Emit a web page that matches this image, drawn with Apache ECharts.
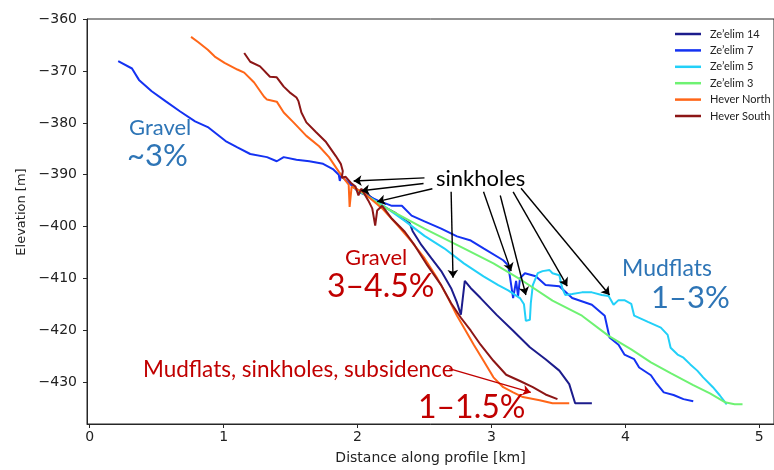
<!DOCTYPE html>
<html>
<head>
<meta charset="utf-8">
<script src="https://cdn.jsdelivr.net/npm/echarts@6/dist/echarts.min.js"></script>
<style>html,body{margin:0;padding:0;background:#fff}#main{width:774px;height:470px}</style>
</head>
<body>
<div id="main"></div>
<script>
const seriesNames = ['Ze\u2019elim 14','Ze\u2019elim 7','Ze\u2019elim 5','Ze\u2019elim 3','Hever North','Hever South'];
const xTicks = [0,1,2,3,4,5];
const yTicks = [-430,-420,-410,-400,-390,-380,-370,-360];

const zeelim14 = [[1.985,-392.7],[2.096,-394.2],[2.184,-396.0],[2.279,-397.3],[2.331,-398.4],[2.390,-399.4],[2.412,-400.9],[2.478,-403.6],[2.551,-406.1],[2.625,-408.6],[2.699,-411.9],[2.743,-414.7],[2.772,-417.0],[2.801,-410.5],[2.846,-411.9],[2.919,-413.8],[3.037,-417.0],[3.162,-420.1],[3.287,-423.3],[3.404,-425.6],[3.507,-427.8],[3.581,-430.4],[3.625,-434.1],[3.750,-434.1]];

const zeelim7 = [[0.213,-368.1],[0.316,-369.5],[0.368,-371.7],[0.463,-373.9],[0.566,-375.8],[0.676,-377.8],[0.787,-379.7],[0.882,-380.8],[1.015,-383.5],[1.103,-384.7],[1.199,-386.0],[1.324,-386.6],[1.397,-387.4],[1.449,-386.6],[1.544,-387.1],[1.640,-387.4],[1.743,-387.9],[1.816,-388.9],[1.860,-390.0],[1.868,-391.2],[1.875,-390.2],[1.949,-391.9],[2.007,-393.3],[2.154,-395.0],[2.257,-396.0],[2.331,-396.0],[2.404,-397.9],[2.500,-399.0],[2.625,-400.4],[2.743,-401.9],[2.846,-402.7],[2.941,-404.2],[3.088,-406.5],[3.125,-407.5],[3.140,-410.0],[3.162,-413.8],[3.184,-410.5],[3.199,-413.4],[3.213,-410.0],[3.250,-409.0],[3.331,-409.6],[3.404,-411.3],[3.507,-411.5],[3.603,-413.8],[3.750,-415.1],[3.846,-417.2],[3.882,-421.4],[3.949,-422.8],[3.993,-424.7],[4.066,-425.6],[4.103,-427.2],[4.191,-428.7],[4.228,-430.1],[4.287,-432.0],[4.360,-432.5],[4.434,-433.3],[4.507,-433.7]];

const zeelim5 = [[2.000,-392.9],[2.206,-396.2],[2.353,-398.9],[2.500,-401.8],[2.647,-404.2],[2.794,-407.1],[2.941,-409.6],[3.051,-411.3],[3.125,-412.3],[3.213,-413.8],[3.243,-415.0],[3.257,-418.2],[3.287,-418.0],[3.294,-414.8],[3.309,-411.3],[3.346,-409.0],[3.382,-408.6],[3.434,-408.4],[3.456,-409.0],[3.507,-409.4],[3.529,-411.9],[3.551,-413.2],[3.603,-413.0],[3.676,-412.7],[3.750,-412.7],[3.824,-413.2],[3.875,-413.4],[3.912,-415.1],[3.949,-414.2],[3.993,-414.2],[4.044,-414.9],[4.066,-417.2],[4.169,-418.4],[4.265,-419.5],[4.316,-420.9],[4.338,-423.4],[4.390,-424.7],[4.434,-425.3],[4.485,-426.6],[4.537,-427.8],[4.581,-429.1],[4.654,-431.0],[4.706,-432.6],[4.757,-434.3]];

const zeelim3 = [[1.963,-392.3],[2.184,-396.0],[2.500,-400.4],[2.794,-404.2],[3.015,-407.1],[3.235,-410.5],[3.456,-414.3],[3.676,-417.2],[3.875,-421.1],[4.044,-423.7],[4.191,-426.2],[4.338,-428.3],[4.507,-430.6],[4.632,-432.2],[4.743,-433.9],[4.816,-434.3],[4.875,-434.3]];

const heverNorth = [[0.757,-363.4],[0.809,-364.4],[0.882,-365.9],[0.934,-367.2],[1.007,-368.4],[1.103,-369.7],[1.154,-370.3],[1.228,-372.2],[1.301,-374.9],[1.324,-375.5],[1.397,-375.9],[1.449,-378.0],[1.522,-379.9],[1.618,-382.5],[1.713,-384.5],[1.787,-386.6],[1.860,-389.4],[1.912,-391.2],[1.934,-391.9],[1.941,-396.2],[1.956,-392.3],[2.037,-393.3],[2.184,-396.5],[2.301,-399.8],[2.404,-402.9],[2.500,-406.1],[2.596,-410.0],[2.684,-414.2],[2.743,-417.2],[2.794,-419.5],[2.868,-422.8],[2.941,-425.9],[3.015,-429.1],[3.088,-431.0],[3.162,-432.0],[3.235,-432.9],[3.360,-433.5],[3.456,-434.1],[3.581,-434.1]];

const heverSouth = [[1.154,-366.5],[1.199,-368.2],[1.272,-369.1],[1.346,-371.1],[1.397,-371.2],[1.449,-373.0],[1.493,-374.1],[1.544,-375.1],[1.559,-375.8],[1.581,-378.0],[1.618,-379.9],[1.691,-381.8],[1.765,-383.7],[1.838,-386.4],[1.875,-387.9],[1.890,-389.3],[1.882,-390.6],[1.912,-390.4],[1.956,-391.7],[1.985,-392.3],[2.007,-394.0],[2.029,-392.7],[2.081,-395.0],[2.110,-396.5],[2.132,-399.8],[2.147,-396.9],[2.184,-396.0],[2.257,-398.5],[2.353,-401.0],[2.426,-403.6],[2.522,-407.5],[2.625,-411.3],[2.699,-414.8],[2.772,-417.6],[2.846,-420.1],[2.919,-422.8],[3.015,-425.9],[3.110,-428.6],[3.213,-429.8],[3.309,-431.0],[3.404,-432.4],[3.493,-433.3]];

const seriesData = [zeelim14, zeelim7, zeelim5, zeelim3, heverNorth, heverSouth];
const seriesColors = ['#1c1c8c','#1432f2','#22d0f8','#6ef272','#ff6618','#8c1616'];

// annotation arrows (tail -> head, data units)
const sinkholeArrows = [
  [[2.500,-390.6],[1.971,-391.2]],
  [[2.493,-391.7],[2.029,-393.1]],
  [[2.559,-392.7],[2.147,-395.2]],
  [[2.699,-393.3],[2.713,-409.9]],
  [[2.941,-393.3],[3.147,-408.6]],
  [[3.066,-394.0],[3.257,-413.2]],
  [[3.162,-393.3],[3.566,-411.5]],
  [[3.221,-392.6],[3.882,-413.2]]
];
const mudflatArrow = [[2.684,-427.4],[3.294,-432.0]];

const chart = echarts.init(document.getElementById('main'), null, {renderer:'canvas'});

const tickColor = '#262626';
const series = seriesNames.map((n,i)=>({
  name:n, type:'line', data:seriesData[i], showSymbol:false, symbol:'none',
  lineStyle:{width:2, color:seriesColors[i]}, itemStyle:{color:seriesColors[i]},
  animation:false, z:2
}));
const arrowData = sinkholeArrows.map(a=>[{coord:a[0]},{coord:a[1]}]);
arrowData.push([{coord:mudflatArrow[0], lineStyle:{color:'#c00000'}},{coord:mudflatArrow[1]}]);
series.push({
  name:'annotations', type:'line', data:[], z:5, silent:true,
  markLine:{silent:true, animation:false, symbol:['none','arrow'], symbolSize:8, precision:4,
    label:{show:false}, lineStyle:{color:'#000', width:1.4, type:'solid'}, emphasis:{disabled:true},
    data:arrowData}
});

const annoFont = 'Lato';
function txt(t,x,y,size,color){
  return {type:'text', x:x, y:y, z:10, style:{text:t, x:0, y:0, fill:color, fontSize:size, fontFamily:annoFont, textAlign:'left', textVerticalAlign:'middle'}};
}

chart.setOption({
  animation:false,
  backgroundColor:'#ffffff',
  grid:{left:87, top:19, width:698, height:408, show:true, borderColor:tickColor, borderWidth:1, containLabel:false},
  legend:{
    data:seriesNames, orient:'vertical', left:675, top:27, padding:0, icon:'rect', itemWidth:26, itemHeight:2.5, itemGap:2.4,
    textStyle:{fontFamily:'Lato', fontSize:11, color:'#222', lineHeight:14, padding:[0,0,0,4]}
  },
  xAxis:{
    type:'value', min:-0.02, max:5.11,
    splitLine:{show:false},
    axisLine:{onZero:false, lineStyle:{color:tickColor, width:1}},
    axisTick:{show:true, customValues:xTicks, length:4, lineStyle:{color:tickColor}},
    axisLabel:{customValues:xTicks, margin:6, color:'#222', fontFamily:'DejaVu Sans', fontSize:14},
    name:'Distance along profile [km]', nameLocation:'middle', nameGap:27,
    nameTextStyle:{fontFamily:'DejaVu Sans', fontSize:14, color:'#222'}
  },
  yAxis:{
    type:'value', min:-438.1, max:-359.95,
    splitLine:{show:false},
    axisLine:{onZero:false, lineStyle:{color:tickColor, width:1}},
    axisTick:{show:true, customValues:yTicks, length:4, lineStyle:{color:tickColor}},
    axisLabel:{customValues:yTicks, margin:10, color:'#222', fontFamily:'DejaVu Sans', fontSize:14,
      formatter:v=>String(v).replace('-','\u2212')}
  },
  graphic:[
    {type:'text', x:22, y:212, rotation:Math.PI/2, z:10,
      style:{text:'Elevation [m]', x:0, y:0, fill:'#222', fontSize:13, fontFamily:'DejaVu Sans', textAlign:'center', textVerticalAlign:'middle'}},
    txt('Gravel',129,128,22,'#2e75b6'),
    txt('~3%',127,156,31,'#2e75b6'),
    txt('sinkholes',436,179,22,'#000000'),
    txt('Gravel',345,258,22,'#c00000'),
    txt('3\u20134.5%',327,287,32,'#c00000'),
    txt('Mudflats',622,269,23,'#2e75b6'),
    txt('1\u20133%',651,298,31,'#2e75b6'),
    txt('Mudflats, sinkholes, subsidence',143,370,22.5,'#c00000'),
    txt('1\u20131.5%',418,408,32,'#c00000')
  ],
  series:series
});
</script>
</body>
</html>
